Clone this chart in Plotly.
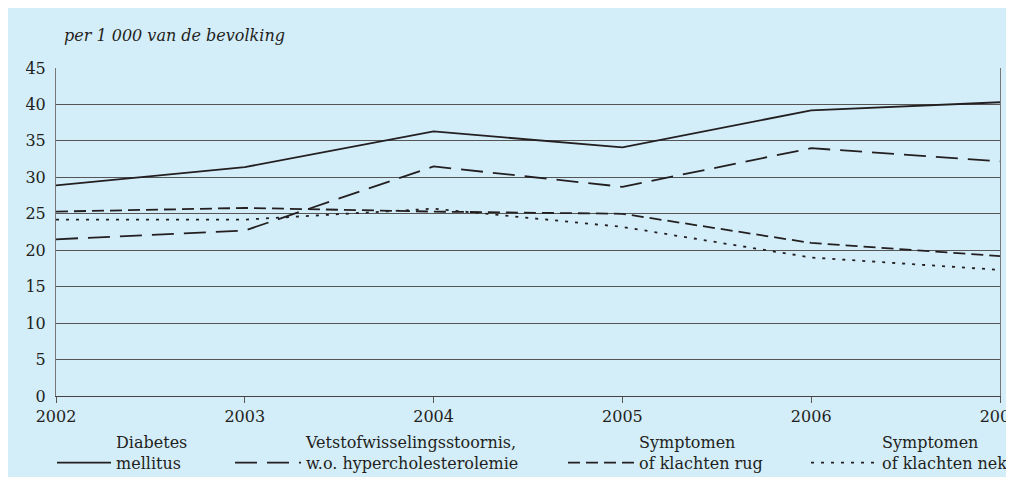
import plotly.graph_objects as go

years = [2002, 2003, 2004, 2005, 2006, 2007]
diabetes = [28.9, 31.4, 36.3, 34.1, 39.2, 40.3]
vetstof = [21.5, 22.7, 31.5, 28.7, 34.0, 32.2]
rug = [25.3, 25.8, 25.3, 25.0, 21.0, 19.2]
nek = [24.2, 24.2, 25.7, 23.2, 19.0, 17.3]

names = ["Diabetes<br>mellitus",
         "Vetstofwisselingsstoornis,<br>w.o. hypercholesterolemie",
         "Symptomen<br>of klachten rug",
         "Symptomen<br>of klachten nek"]
dashes = ["solid", "22px,10px", "12px,6px", "3px,7px"]
series = [diabetes, vetstof, rug, nek]

FONT = "DejaVu Serif"
INK = "#231f20"
BLUE = "#d3edf9"

# page offset of 8px (default body margin) is accounted for in figure coords
W, H = 1006, 470
L, R, T, B = 48, 14, 60, 82
PW, PH = W - L - R, H - T - B

def px(x):
    return (x - L) / PW

def py(y):
    return (H - B - y) / PH

legend_ids = ["legend", "legend2", "legend3", "legend4"]
sym_start = [49, 227, 560, 803]
item_w = [54, 66, 66, 66]

fig = go.Figure()
for vals, nm, ds, lg in zip(series, names, dashes, legend_ids):
    fig.add_trace(go.Scatter(x=years, y=vals, mode="lines", name=nm, legend=lg,
                             line=dict(color=INK, width=1.8, dash=ds)))

layout_legends = {}
for lg, xs, iw in zip(legend_ids, sym_start, item_w):
    layout_legends[lg] = dict(orientation="h", x=px(xs - 5), xanchor="left",
                              y=py(417), yanchor="top", valign="bottom",
                              bgcolor="rgba(0,0,0,0)", itemwidth=iw,
                              font=dict(size=16, family=FONT, color=INK))

fig.update_layout(
    width=W, height=H,
    margin=dict(l=L, r=R, t=T, b=B, autoexpand=False),
    paper_bgcolor="white", plot_bgcolor="white",
    font=dict(family=FONT, size=16, color=INK),
    showlegend=True,
    xaxis=dict(range=[2002, 2007], tickvals=years, ticks="outside", ticklen=6,
               tickcolor="#555", showgrid=False, showline=True, linecolor="#444",
               linewidth=1, zeroline=False, automargin=False,
               ticklabeloverflow="allow",
               tickfont=dict(size=16, family=FONT, color=INK)),
    yaxis=dict(range=[0, 45], tickvals=list(range(0, 50, 5)), showgrid=True,
               gridcolor="#555", gridwidth=1, showline=True, mirror=True,
               linecolor="#777", linewidth=1, zeroline=False, ticks="",
               ticklabelstandoff=6, automargin=False,
               tickfont=dict(size=16, family=FONT, color=INK)),
    shapes=[dict(type="rect", xref="paper", yref="paper", layer="below",
                 x0=px(0), x1=px(1005), y0=py(469), y1=py(0),
                 fillcolor=BLUE, line=dict(width=0))],
    annotations=[dict(text="<i>per 1 000 van de bevolking</i>", xref="paper", yref="paper",
                      x=px(54), y=py(28), xanchor="left", yanchor="middle",
                      showarrow=False, font=dict(size=16, family=FONT, color=INK))],
    **layout_legends,
)

fig.write_html("out.html")
